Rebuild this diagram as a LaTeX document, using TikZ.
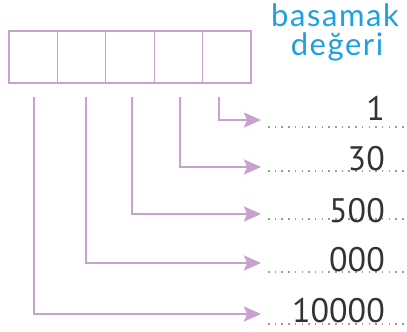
\documentclass[tikz,border=0pt]{standalone}
\usepackage{fontspec}
\setmainfont{Lato}
\newfontfamily\numfont{PT Sans}
\newfontfamily\titlefont[LetterSpace=5]{Lato}
\usetikzlibrary{arrows.meta}
\definecolor{lila}{HTML}{C9A0D0}
\definecolor{mavi}{HTML}{1BA1E2}
\definecolor{nokta}{HTML}{9A9A9A}
\tikzset{
  cell/.style={draw=lila, line width=1.3pt, minimum width=48.4pt, minimum height=52pt, inner sep=0pt, outer sep=0pt},
  conn/.style={draw=lila, line width=2pt, -{Stealth[length=17pt,width=15pt,inset=3pt]}},
  num/.style={anchor=base east, font=\numfont\fontsize{34}{34}\selectfont, text=black!80, inner sep=0pt},
  dotline/.style={draw=nokta, line width=1.3pt, dash pattern=on 1.5pt off 5.2pt},
  title/.style={font=\titlefont\fontsize{31}{31}\selectfont, text=mavi, anchor=base, inner sep=0pt}
}
\begin{document}
\begin{tikzpicture}[x=1pt,y=-1pt]
\useasboundingbox (0,0) rectangle (407,332);
% cells
\foreach \i in {0,...,4}{
  \node[cell] (c\i) at ({9+24.2+48.4*\i},57) {};
}
% title
\node[title] (t1) at (335,27) {basamak};
\node[title] (t2) at (337,55) {değeri};
% start coordinates
\coordinate (s0) at (34,97);
\coordinate (s1) at (86,97);
\coordinate (s2) at (132,97);
\coordinate (s3) at (180,97);
\coordinate (s4) at (219,97);
% arrow ends
\coordinate (e4) at (261,120);
\coordinate (e3) at (261,167);
\coordinate (e2) at (261,214);
\coordinate (e1) at (261,263);
\coordinate (e0) at (261,314);
\draw[conn] (s4) |- (e4);
\draw[conn] (s3) |- (e3);
\draw[conn] (s2) |- (e2);
\draw[conn] (s1) |- (e1);
\draw[conn] (s0) |- (e0);
% dotted lines
\foreach \n/\y in {4/127,3/171,2/219,1/272,0/324}{
  \coordinate (da\n) at (268,\y);
  \coordinate (db\n) at (407,\y);
  \draw[dotline] (da\n) -- (db\n);
}
% numbers
\node[num] (n4) at (385,120) {1};
\node[num] (n3) at (385,170) {30};
\node[num] (n2) at (385,222) {500};
\node[num] (n1) at (385,271) {000};
\node[num] (n0) at (385,322) {10000};
\end{tikzpicture}
\end{document}
